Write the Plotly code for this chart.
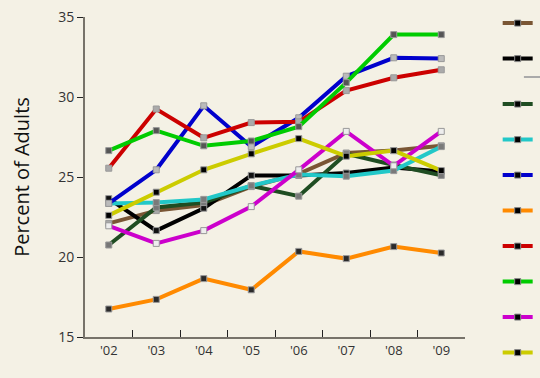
import plotly.graph_objects as go

years = ["'02", "'03", "'04", "'05", "'06", "'07", "'08", "'09"]

brown = [22.1, 22.9, 23.25, 24.4, 25.2, 26.5, 26.65, 26.95]
black = [23.65, 21.65, 23.05, 25.1, 25.1, 25.25, 25.6, 25.35]
dkgreen = [20.75, 23.1, 23.4, 24.45, 23.8, 26.45, 25.75, 25.1]
cyan = [23.35, 23.4, 23.6, 24.45, 25.15, 25.05, 25.4, 26.9]
blue = [23.35, 25.45, 29.45, 26.9, 28.7, 31.3, 32.45, 32.4]
orange = [16.75, 17.35, 18.65, 17.95, 20.35, 19.9, 20.65, 20.25]
red = [25.55, 29.25, 27.45, 28.4, 28.45, 30.4, 31.2, 31.7]
green = [26.65, 27.9, 26.95, 27.25, 28.15, 30.9, 33.9, 33.9]
magenta = [21.95, 20.85, 21.65, 23.15, 25.45, 27.85, 25.7, 27.85]
yellow = [22.6, 24.05, 25.45, 26.45, 27.4, 26.3, 26.65, 25.4]

series = [
    ("brown", brown, "#7a5634", "#a8a8a8", 1),
    ("black", black, "#000000", "#111111", 1),
    ("dkgreen", dkgreen, "#1f4d22", "#777777", 2),
    ("cyan", cyan, "#22c8c8", "#7a7a7a", 2),
    ("blue", blue, "#0000cc", "#bbbbbb", 2),
    ("orange", orange, "#ff8a00", "#2a2a2a", 2),
    ("red", red, "#cc0000", "#aaaaaa", 2),
    ("green", green, "#00cc00", "#555555", 2),
    ("magenta", magenta, "#cc00cc", "#eeeeee", 2),
    ("yellow", yellow, "#cccc00", "#000000", 2),
]

BG = "#f4f1e5"
AX = "#77736a"

fig = go.Figure()
for name, vals, col, mcol, grp in series:
    fig.add_trace(go.Scatter(
        x=years, y=vals, mode="lines+markers", showlegend=False,
        line=dict(color=col, width=4),
        marker=dict(symbol="square", size=6, color=mcol,
                    line=dict(color="#999999", width=1)),
    ))
for name, vals, col, mcol, grp in series:
    fig.add_trace(go.Scatter(
        x=[None], y=[None], mode="lines+markers", name=" ",
        legendgroup=str(grp), showlegend=True,
        line=dict(color=col, width=4),
        marker=dict(symbol="square", size=6, color="#000000",
                    line=dict(color="#888888", width=1)),
    ))

fig.update_layout(
    width=540, height=378,
    paper_bgcolor=BG, plot_bgcolor=BG,
    margin=dict(l=85, r=75, t=17, b=41, autoexpand=False),
    font=dict(family="Open Sans, Liberation Sans, sans-serif", color="#333333", size=12),
    showlegend=True,
    legend=dict(x=1.086, y=1.052, xanchor="left", yanchor="top",
                traceorder="grouped", tracegroupgap=10,
                font=dict(size=25), bgcolor="rgba(0,0,0,0)",
                itemwidth=30, maxheight=420),
    xaxis=dict(type="category", range=[-0.5, 7.5], showline=True, linecolor=AX, linewidth=2,
               ticks="inside", ticklen=7, tickcolor="#222222", tickwidth=1,
               tickson="boundaries", showgrid=False, zeroline=False,
               tickfont=dict(size=13, color="#333333")),
    yaxis=dict(range=[15, 35], dtick=5, showline=True, linecolor=AX, linewidth=2,
               ticks="outside", ticklen=6, tickcolor="#222222", tickwidth=1,
               showgrid=False, zeroline=False, tickfont=dict(size=14, color="#333333"),
               title=dict(text="Percent of Adults", font=dict(size=20, color="#111111"), standoff=23)),
    shapes=[dict(type="line", xref="paper", yref="paper", x0=1.155, x1=1.2, y0=0.8125, y1=0.8125,
                 line=dict(color="#aaaaaa", width=2))],
)

fig.write_html("out.html", config={"displayModeBar": False},
               post_script="document.body.style.margin='0';document.body.style.background='%s';" % BG)
